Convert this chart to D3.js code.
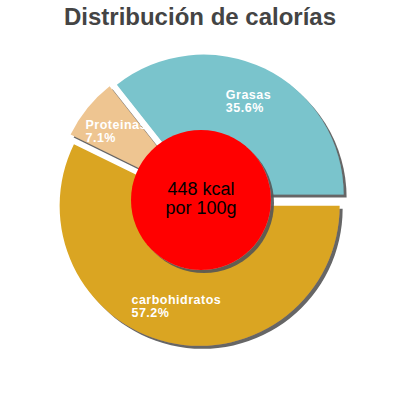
<!DOCTYPE html>
<html>
<head>
<meta charset="utf-8">
<script src="https://cdn.jsdelivr.net/npm/d3@7"></script>
<style>
  body { margin: 0; background: #fff; }
  svg { font-family: "Liberation Sans", Arial, sans-serif; }
</style>
</head>
<body>
<div id="chart"></div>
<script>
// chart values
const categories = ["carbohidratos", "Proteinas", "Grasas"];
const percents = [57.2, 7.1, 35.6];
const sliceColors = ["#DAA520", "#EEC591", "#7AC4CC"];
const titleText = "Distribución de calorías";
const centerLines = ["448 kcal", "por 100g"];

const width = 400, height = 400;
const cx = 201, cy = 200;
const outerR = 140, holeR = 70, explode = 6;

const svg = d3.select("#chart")
    .append("svg")
    .attr("width", width)
    .attr("height", height);

// drop shadow like the original
const defs = svg.append("defs");
defs.append("filter")
    .attr("id", "shadow")
    .attr("x", "-20%").attr("y", "-20%")
    .attr("width", "140%").attr("height", "140%")
    .append("feDropShadow")
    .attr("dx", 3).attr("dy", 3)
    .attr("stdDeviation", 0.6)
    .attr("flood-color", "#555")
    .attr("flood-opacity", 0.9);

svg.append("text")
    .attr("x", width / 2)
    .attr("y", 25)
    .attr("text-anchor", "middle")
    .attr("font-size", 24)
    .attr("font-weight", "bold")
    .attr("fill", "#444")
    .text(titleText);

const data = categories.map((c, i) => ({ name: c, value: percents[i], color: sliceColors[i] }));

// start at 3 o'clock, go clockwise
const pie = d3.pie()
    .sort(null)
    .value(d => d.value)
    .startAngle(Math.PI / 2)
    .endAngle(Math.PI / 2 + 2 * Math.PI);

const arc = d3.arc().innerRadius(0).outerRadius(outerR);

const arcs = pie(data);

const g = svg.append("g").attr("transform", `translate(${cx},${cy})`);

function offset(d, r) {
    const a = (d.startAngle + d.endAngle) / 2;
    return [Math.sin(a) * r, -Math.cos(a) * r];
}

g.selectAll("path.slice")
    .data(arcs)
    .enter()
    .append("path")
    .attr("class", "slice")
    .attr("transform", d => `translate(${offset(d, explode)})`)
    .attr("d", arc)
    .attr("fill", d => d.data.color)
    .attr("filter", "url(#shadow)");

// labels, left aligned, box centred on the slice
arcs.forEach(d => {
    const [ox, oy] = offset(d, explode);
    const [lx, ly] = offset(d, 103);
    const t = g.append("text")
        .attr("fill", "#fff")
        .attr("font-size", 12.5)
        .attr("font-weight", "bold")
        .attr("letter-spacing", 0.5);
    t.append("tspan").attr("x", 0).attr("y", 0).text(d.data.name);
    t.append("tspan").attr("x", 0).attr("y", 13).text(d.data.value.toFixed(1) + "%");
    const bb = t.node().getBBox();
    t.attr("transform", `translate(${ox + lx - bb.x - bb.width / 2},${oy + ly - bb.y - bb.height / 2})`);
});

g.append("circle")
    .attr("r", holeR)
    .attr("fill", "#FF0000")
    .attr("filter", "url(#shadow)");

g.selectAll("text.center")
    .data(centerLines)
    .enter()
    .append("text")
    .attr("class", "center")
    .attr("text-anchor", "middle")
    .attr("y", (d, i) => -5 + i * 19)
    .attr("font-size", 18)
    .attr("fill", "#000")
    .text(d => d);
</script>
</body>
</html>
